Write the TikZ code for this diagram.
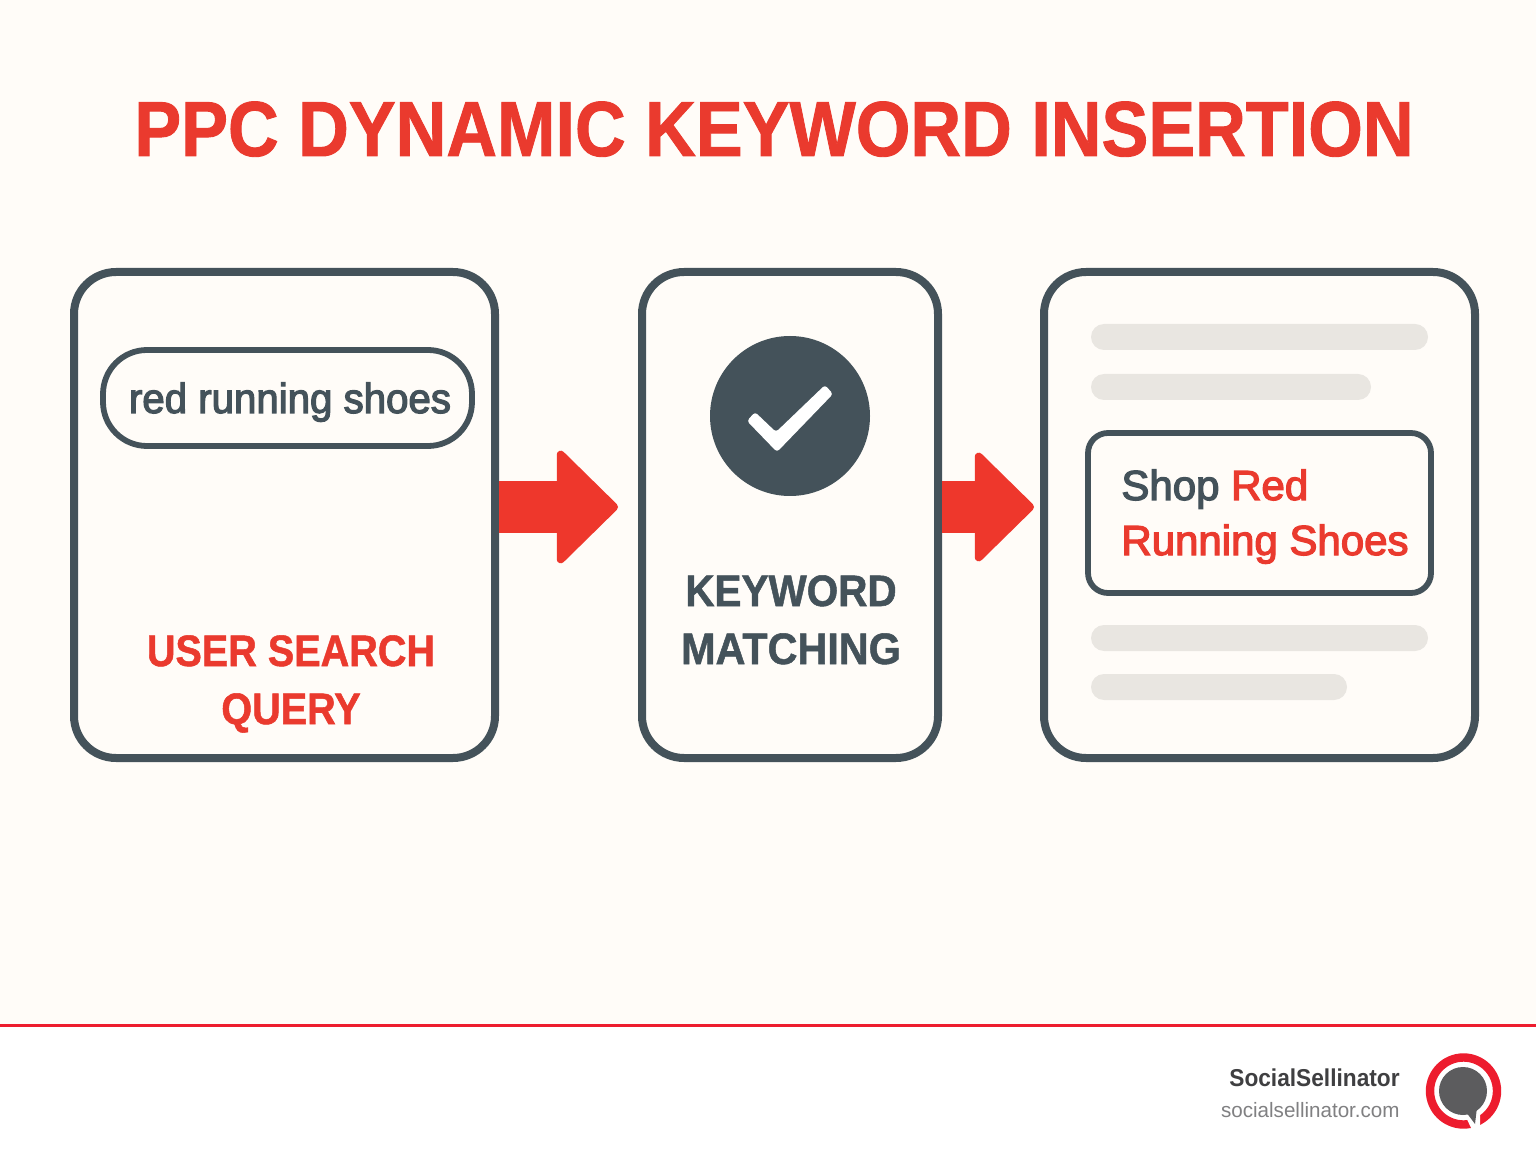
\documentclass[tikz,border=0pt]{standalone}
\usepackage{fontspec}
\setmainfont{Liberation Sans}
\newfontfamily\medfont[FakeBold=3]{Liberation Sans}
\newfontfamily\heavyfont[FakeBold=1.2]{Liberation Sans Bold}
\usetikzlibrary{arrows.meta,calc}
\definecolor{paper}{HTML}{FFFCF8}
\definecolor{ink}{HTML}{44525A}
\definecolor{redtx}{HTML}{EA3A2E}
\definecolor{redar}{HTML}{EE372C}
\definecolor{rule}{HTML}{ED1C2E}
\definecolor{bar}{HTML}{E9E6E1}
\definecolor{logog}{HTML}{5C5C5E}
\definecolor{brand}{HTML}{3F3F41}
\definecolor{urlc}{HTML}{808082}
\tikzset{
  x=0.5pt,y=-0.5pt,
  card/.style={draw=ink,line width=4pt,rounded corners=21pt,fill=paper},
  inner/.style={draw=ink,line width=2.9pt,fill=paper},
  bigtx/.style={font=\heavyfont\fontsize{22}{29}\selectfont,inner sep=0pt,anchor=base},
  midtx/.style={font=\medfont\fontsize{21}{27}\selectfont,inner sep=0pt},
  skel/.style={fill=bar,rounded corners=6.5pt},
  blockarrow/.style={draw=redar,line width=26pt},
  headone/.style={-{Triangle[length=31.5pt,width=61pt,round,line width=4pt,fill=redar]}},
  headtwo/.style={-{Triangle[length=30.5pt,width=59pt,round,line width=4pt,fill=redar]}},
}
\begin{document}
\begin{tikzpicture}
\useasboundingbox (0,0) rectangle (1536,1154);
\fill[paper] (0,0) rectangle (1536,1025);
\fill[white] (0,1025) rectangle (1536,1154);
\fill[rule] (0,1024) rectangle (1536,1027);
\node[inner sep=0pt,anchor=base,text=redtx,font=\heavyfont\fontsize{39}{48}\selectfont] (title) at (774,156) {\scalebox{0.9}[1]{PPC DYNAMIC KEYWORD INSERTION}};
% cards
\draw[card] (74,272) rectangle (495,758);
\draw[card] (642,272) rectangle (938,758);
\draw[card] (1044,272) rectangle (1475,758);
\coordinate (c1e) at (499,507);
\coordinate (t1) at (618,507);
\coordinate (c2e) at (942,507);
\coordinate (t2) at (1034,507);
\draw[blockarrow,headone] (c1e) -- (t1);
\draw[blockarrow,headtwo] (c2e) -- (t2);
% first card
\draw[inner,rounded corners=22pt] (103,350) rectangle (472,446);
\node[midtx,anchor=base,text=ink] (query) at (290,413) {\scalebox{0.958}[1]{red running shoes}};
\node[bigtx,text=redtx] (usq1) at (291,666) {\scalebox{0.9}[1]{USER SEARCH}};
\node[bigtx,text=redtx] (usq2) at (291,724) {\scalebox{0.9}[1]{QUERY}};
% second card
\node[circle,fill=ink,minimum size=80pt,inner sep=0pt] (chk) at (790,416) {};
\fill[white,rounded corners=1.5pt] (755,412) -- (776,432) -- (825,385) -- (833,394) -- (777,452) -- (747,421) -- cycle;
\node[bigtx,text=ink] (km1) at (791,606) {\scalebox{0.92}[1]{KEYWORD}};
\node[bigtx,text=ink] (km2) at (791,664) {\scalebox{0.94}[1]{MATCHING}};
% third card
\fill[skel] (1091,324) rectangle (1428,350);
\fill[skel] (1091,374) rectangle (1371,400);
\fill[skel] (1091,625) rectangle (1428,651);
\fill[skel] (1091,674) rectangle (1347,700);
\draw[inner,rounded corners=10pt] (1088,433) rectangle (1431,593);
\node[midtx,anchor=base west,text=ink] (ad1) at (1121,500) {Shop \textcolor{redtx}{Red}};
\node[midtx,anchor=base west,text=redtx] (ad2) at (1121,555) {Running Shoes};
% footer
\node[anchor=base east,inner sep=0pt,text=brand,font=\bfseries\fontsize{12.2}{14}\selectfont] (brand) at (1400,1086) {\scalebox{0.93}[1]{SocialSellinator}};
\node[anchor=base east,inner sep=0pt,text=urlc,font=\fontsize{10.4}{12}\selectfont] (url) at (1400,1117) {\scalebox{0.99}[1]{socialsellinator.com}};
\draw[rule,line width=4.2pt] (1463.5,1091) circle (33.5);
\fill[white] (1464,1113) -- (1473,1132) -- (1480,1131) -- (1480,1108) -- cycle;
\fill[logog] (1463,1091) circle (24);
\fill[logog] (1466,1112) -- (1475,1124) -- (1477,1107) -- cycle;
\end{tikzpicture}
\end{document}
